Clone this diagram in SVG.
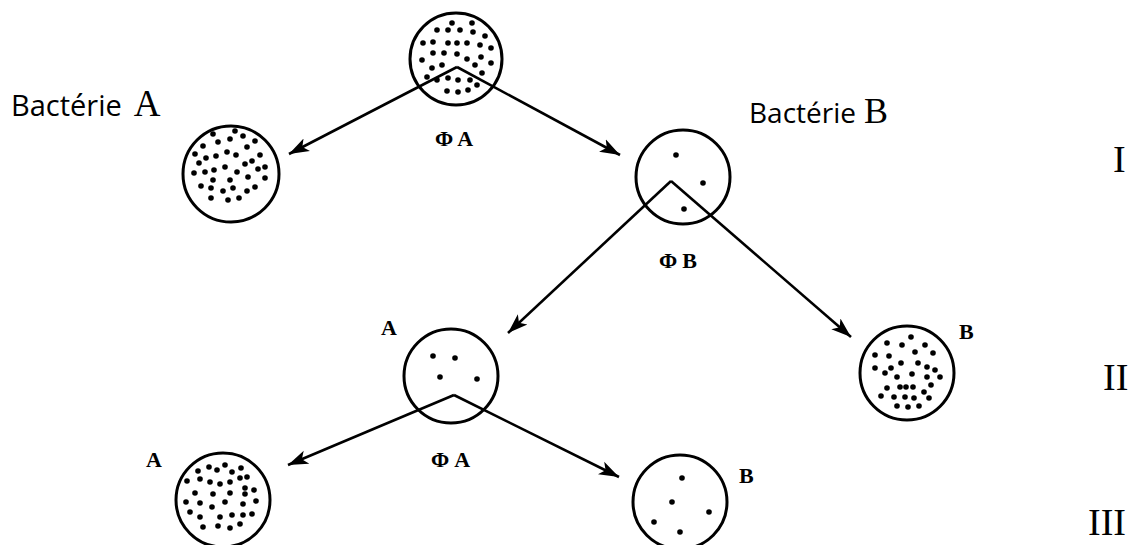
<svg xmlns="http://www.w3.org/2000/svg" width="1131" height="545" viewBox="0 0 1131 545">
  <defs>
    <marker id="head" markerUnits="userSpaceOnUse" markerWidth="22" markerHeight="16" viewBox="0 0 22 16" refX="20" refY="8" orient="auto">
      <path d="M0,1 L20,8 L0,15 L5,8 Z" fill="#000"/>
    </marker>
  </defs>
  <style>
    .plate { fill: #fff; stroke: #000; stroke-width: 3; }
    .dot circle { r: 2.8px; }
    .dot { fill: #000; }
    .link { fill: none; stroke: #000; stroke-width: 2.6; marker-end: url(#head); }
    .sans { font-family: "Open Sans", "DejaVu Sans", sans-serif; fill: #000; }
    .serif { font-family: "Liberation Serif", "DejaVu Serif", serif; fill: #000; }
    .lbl { font-family: "Liberation Serif", serif; font-weight: bold; font-size: 22px; fill: #000; }
    .roman { font-family: "Liberation Serif", serif; font-size: 38px; fill: #000; }
  </style>
  <rect width="1131" height="545" fill="#fff"/>

  <!-- top plate: phage A lysate spread on bacterium B lawn -->
  <g id="plate-top">
    <circle class="plate" cx="456" cy="59" r="46"/>
    <g class="dot">
      <circle cx="452" cy="23"/><circle cx="472" cy="23"/>
      <circle cx="437" cy="30"/><circle cx="448" cy="30"/><circle cx="460" cy="30"/><circle cx="473" cy="32"/>
      <circle cx="485" cy="36"/>
      <circle cx="423" cy="43"/><circle cx="433" cy="42"/><circle cx="448" cy="43"/><circle cx="457" cy="43"/><circle cx="467" cy="43"/><circle cx="480" cy="45"/><circle cx="491" cy="48"/>
      <circle cx="433" cy="53"/><circle cx="444" cy="53"/><circle cx="457" cy="54"/><circle cx="467" cy="59"/><circle cx="481" cy="57"/>
      <circle cx="422" cy="60"/><circle cx="432" cy="68"/><circle cx="442" cy="65"/><circle cx="475" cy="65"/><circle cx="491" cy="63"/>
      <circle cx="427" cy="77"/><circle cx="437" cy="80"/><circle cx="448" cy="78"/><circle cx="458" cy="80"/><circle cx="470" cy="80"/><circle cx="482" cy="73"/>
      <circle cx="447" cy="91"/><circle cx="458" cy="92"/><circle cx="468" cy="90"/><circle cx="477" cy="85"/>
    </g>
  </g>

  <!-- level I, bacterium A -->
  <g id="plate-a1">
    <circle class="plate" cx="231" cy="174" r="48"/>
    <g class="dot">
      <circle cx="235" cy="131"/><circle cx="213" cy="134"/><circle cx="243" cy="136"/><circle cx="218" cy="142"/><circle cx="230" cy="139"/><circle cx="255" cy="141"/>
      <circle cx="203" cy="146"/><circle cx="247" cy="147"/>
      <circle cx="195" cy="154"/><circle cx="206" cy="158"/><circle cx="216" cy="156"/><circle cx="227" cy="152"/><circle cx="236" cy="155"/><circle cx="260" cy="155"/>
      <circle cx="199" cy="163"/><circle cx="225" cy="167"/><circle cx="245" cy="164"/><circle cx="252" cy="161"/><circle cx="258" cy="169"/><circle cx="265" cy="167"/>
      <circle cx="194" cy="173"/><circle cx="205" cy="172"/><circle cx="214" cy="170"/><circle cx="237" cy="172"/><circle cx="248" cy="177"/><circle cx="265" cy="178"/>
      <circle cx="213" cy="180"/><circle cx="230" cy="180"/>
      <circle cx="201" cy="186"/><circle cx="211" cy="188"/><circle cx="223" cy="191"/><circle cx="233" cy="188"/><circle cx="247" cy="191"/><circle cx="255" cy="187"/>
      <circle cx="211" cy="198"/><circle cx="228" cy="200"/><circle cx="239" cy="198"/>
    </g>
  </g>

  <!-- level I, bacterium B -->
  <g id="plate-b1">
    <circle class="plate" cx="683" cy="177" r="47"/>
    <g class="dot">
      <circle cx="676" cy="155"/><circle cx="703" cy="183"/><circle cx="684" cy="209"/>
    </g>
  </g>

  <!-- level II, bacterium A -->
  <g id="plate-a2">
    <circle class="plate" cx="451" cy="376" r="47"/>
    <g class="dot">
      <circle cx="433" cy="356"/><circle cx="455" cy="358"/><circle cx="440" cy="377"/><circle cx="477" cy="379"/>
    </g>
  </g>

  <!-- level II, bacterium B -->
  <g id="plate-b2">
    <circle class="plate" cx="907" cy="373" r="47"/>
    <g class="dot">
      <circle cx="911" cy="337"/><circle cx="887" cy="343"/><circle cx="902" cy="345"/><circle cx="925" cy="345"/>
      <circle cx="875" cy="355"/><circle cx="889" cy="356"/><circle cx="915" cy="352"/><circle cx="933" cy="353"/>
      <circle cx="901" cy="363"/><circle cx="918" cy="363"/>
      <circle cx="875" cy="368"/><circle cx="891" cy="368"/><circle cx="927" cy="367"/><circle cx="935" cy="370"/>
      <circle cx="885" cy="373"/><circle cx="897" cy="377"/><circle cx="912" cy="374"/><circle cx="927" cy="377"/><circle cx="940" cy="377"/>
      <circle cx="887" cy="388"/><circle cx="900" cy="387"/><circle cx="906" cy="387"/><circle cx="913" cy="387"/><circle cx="931" cy="385"/>
      <circle cx="924" cy="392"/>
      <circle cx="881" cy="396"/><circle cx="894" cy="397"/><circle cx="905" cy="397"/><circle cx="914" cy="398"/><circle cx="929" cy="398"/>
      <circle cx="897" cy="406"/><circle cx="908" cy="407"/><circle cx="919" cy="406"/>
    </g>
  </g>

  <!-- level III, bacterium A -->
  <g id="plate-a3">
    <circle class="plate" cx="223" cy="500" r="47"/>
    <g class="dot">
      <circle cx="225" cy="465"/><circle cx="209" cy="467"/><circle cx="198" cy="471"/><circle cx="217" cy="470"/><circle cx="232" cy="472"/><circle cx="241" cy="468"/>
      <circle cx="240" cy="478"/><circle cx="247" cy="477"/>
      <circle cx="187" cy="481"/><circle cx="200" cy="479"/><circle cx="210" cy="482"/><circle cx="220" cy="484"/><circle cx="230" cy="482"/>
      <circle cx="195" cy="493"/><circle cx="213" cy="494"/><circle cx="230" cy="493"/><circle cx="245" cy="488"/><circle cx="245" cy="494"/><circle cx="254" cy="490"/>
      <circle cx="186" cy="502"/><circle cx="200" cy="503"/><circle cx="212" cy="507"/><circle cx="225" cy="502"/><circle cx="243" cy="504"/><circle cx="256" cy="501"/>
      <circle cx="190" cy="512"/><circle cx="200" cy="517"/><circle cx="220" cy="517"/><circle cx="232" cy="515"/><circle cx="243" cy="515"/><circle cx="252" cy="514"/>
      <circle cx="203" cy="527"/><circle cx="218" cy="526"/><circle cx="230" cy="528"/><circle cx="240" cy="524"/>
    </g>
  </g>

  <!-- level III, bacterium B -->
  <g id="plate-b3">
    <circle class="plate" cx="680" cy="502" r="47"/>
    <g class="dot">
      <circle cx="682" cy="478"/><circle cx="672" cy="502"/><circle cx="709" cy="512"/><circle cx="654" cy="522"/><circle cx="680" cy="532"/>
    </g>
  </g>

  <!-- transfer arrows -->
  <g id="connectors">
    <path class="link" d="M457,67 L289,154"/>
    <path class="link" d="M457,67 L620,155"/>
    <path class="link" d="M671,181 L508,333"/>
    <path class="link" d="M671,181 L851,337"/>
    <path class="link" d="M454,395 L288,465"/>
    <path class="link" d="M454,395 L619,477"/>
  </g>

  <!-- labels -->
  <g id="labels">
    <text x="11" y="116"><tspan class="sans" font-size="29">Bactérie</tspan><tspan class="serif" font-size="37" dx="12">A</tspan></text>
    <text x="749" y="123"><tspan class="sans" font-size="28">Bactérie</tspan><tspan class="serif" font-size="36" dx="8">B</tspan></text>
    <text class="lbl" x="435" y="146">Φ<tspan dx="4">A</tspan></text>
    <text class="lbl" x="659" y="268">Φ<tspan dx="5">B</tspan></text>
    <text class="lbl" x="431" y="467">Φ<tspan dx="5">A</tspan></text>
    <text class="lbl" x="381" y="335">A</text>
    <text class="lbl" x="959" y="339">B</text>
    <text class="lbl" x="146" y="467">A</text>
    <text class="lbl" x="739" y="483">B</text>
    <text class="roman" x="1113" y="172">I</text>
    <text class="roman" x="1103" y="390">II</text>
    <text class="roman" x="1088" y="535">III</text>
  </g>
</svg>
